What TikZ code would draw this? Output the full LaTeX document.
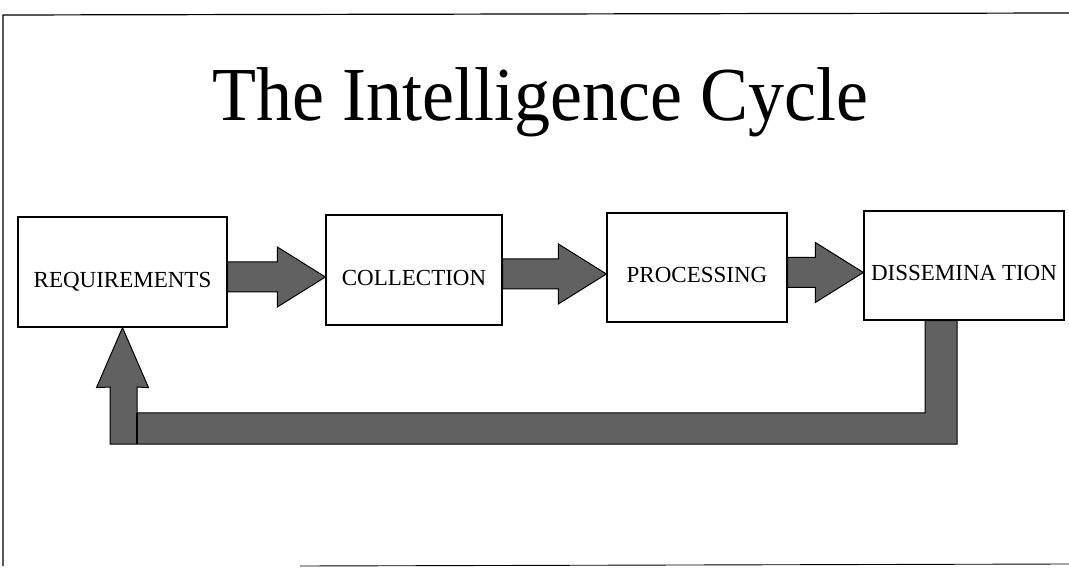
\documentclass[tikz,border=0pt]{standalone}
\usepackage{fontspec}
\setmainfont{Liberation Serif}
\usetikzlibrary{calc}
\newcommand\hflowarrow[2]{%
  \fill[flow] ($(#1)+(0,-15)$) -- ($(#2)+(-48,-15)$) -- ($(#2)+(-48,-30)$) -- (#2)
    -- ($(#2)+(-48,30)$) -- ($(#2)+(-48,15)$) -- ($(#1)+(0,15)$) -- cycle;}
\begin{document}
\begin{tikzpicture}[x=1pt,y=-1pt,
  box/.style={draw,line width=1.3pt,fill=white,inner sep=0pt,
    text height=40pt,text depth=9pt,font=\fontsize{23}{26}\selectfont},
  flow/.style={fill=black!62,draw=black,line width=1pt,line join=miter}]
\useasboundingbox (0,0) rectangle (1069,569);
\fill[white] (0,0) rectangle (1069,569);
\draw[line width=1.2pt] (1069,13) -- (3,15) -- (3,566);
\draw[line width=0.9pt] (300,566) -- (1069,564);
\node[font=\fontsize{72}{80}\selectfont,anchor=base,yscale=1.06,inner sep=0pt] (title) at (540,121) {The Intelligence Cycle};
\node[box,minimum width=209pt,minimum height=110pt] (req) at (122.5,272) {REQUIREMENTS};
\node[box,minimum width=176pt,minimum height=110pt] (col) at (414,270) {COLLECTION};
\node[box,minimum width=180pt,minimum height=109pt] (proc) at (697,267.5) {PROCESSING};
\node[box,minimum width=200pt,minimum height=109pt] (dis) at (964,265.5) {DISSEMINA TION};
% forward arrows
\coordinate (a1s) at ($(req.east)+(0,5)$);
\coordinate (a1e) at (col.west |- a1s);
\hflowarrow{a1s}{a1e}
\coordinate (a2s) at ($(col.east)+(0,4)$);
\coordinate (a2e) at (proc.west |- a2s);
\hflowarrow{a2s}{a2e}
\coordinate (a3s) at ($(proc.east)+(0,5)$);
\coordinate (a3e) at (dis.west |- a3s);
\hflowarrow{a3s}{a3e}
% feedback arrow
\coordinate (fbA) at ($(dis.south)+(-39,0)$);
\coordinate (fbB) at ($(dis.south)+(-7,0)$);
\coordinate (tip) at (req.south);
\fill[flow] (fbA) -- (fbA |- 0,413) -- (137,413) -- (137,387) -- ($(tip)+(26,60)$)
  -- (tip) -- ($(tip)+(-26,60)$) -- (110,387) -- (110,444) -- (fbB |- 0,444) -- (fbB) -- cycle;
\draw[line width=1.5pt] (137,413) -- (137,444);
\end{tikzpicture}
\end{document}
